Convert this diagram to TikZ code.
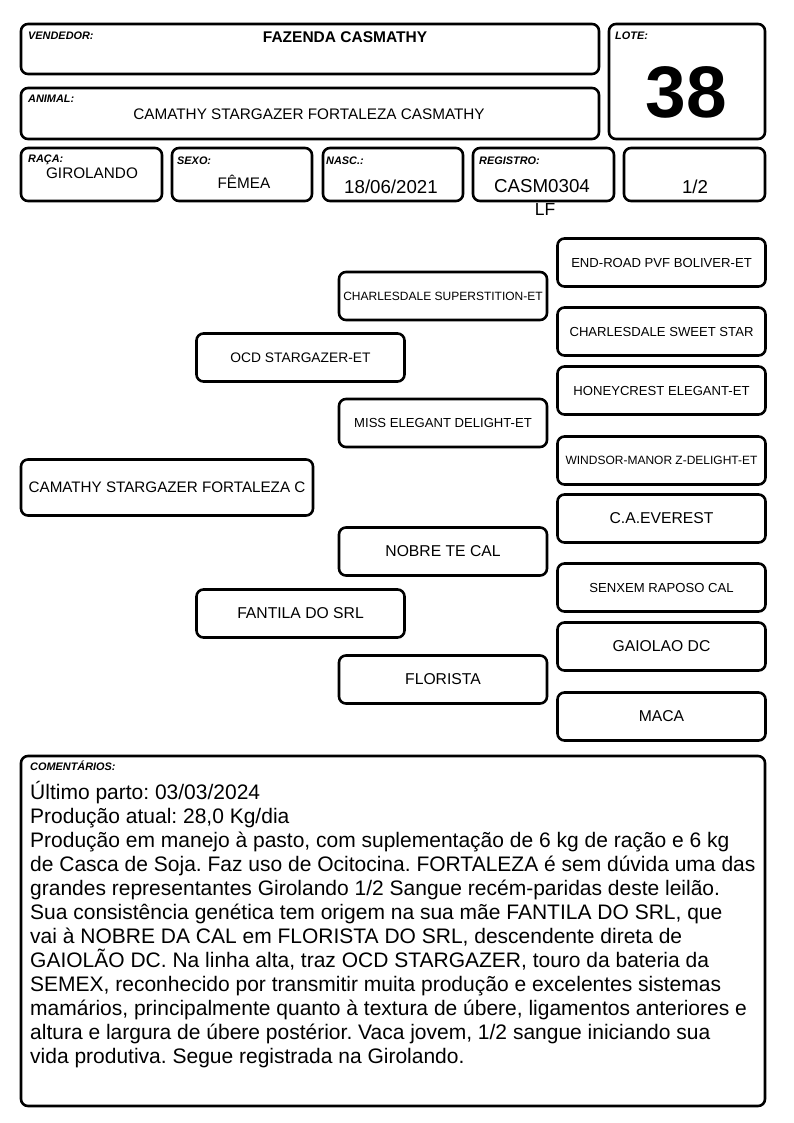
\documentclass[tikz,border=0pt]{standalone}
\usepackage{fontspec}
\setmainfont{Liberation Sans}
\newcommand\pxfont[1]{\fontsize{#1}{#1}\selectfont}
\frenchspacing

\begin{document}
\begin{tikzpicture}[x=1pt,y=-1pt,
  cell/.style={draw, line width=2.6pt, rounded corners=7pt},
  ped/.style={cell, inner sep=0pt, minimum width=208pt, minimum height=48pt},
  lbl/.style={anchor=base west, inner sep=0pt, font=\pxfont{10.9}\bfseries\itshape},
  val/.style={anchor=base, inner sep=0pt},
  note/.style={anchor=base west, inner sep=0pt, font=\pxfont{21}}]
\useasboundingbox (0,0) rectangle (794,1123);

% header
\draw[cell] (21,24) rectangle (599,74);
\draw[cell] (609,24) rectangle (765,139);
\draw[cell] (21,88) rectangle (599,139);
\draw[cell] (21,148) rectangle (162,201);
\draw[cell] (172,148) rectangle (312,201);
\draw[cell] (323,148) rectangle (463,201);
\draw[cell] (473,148) rectangle (614,201);
\draw[cell] (624,148) rectangle (765,201);

\node[lbl] (vendlbl) at (28,39.5) {VENDEDOR:};
\node[lbl] (lotelbl) at (615,39.5) {LOTE:};
\node[lbl] (animallbl) at (28,103) {ANIMAL:};
\node[lbl] (racalbl) at (28,163) {RAÇA:};
\node[lbl] (sexolbl) at (177,165) {SEXO:};
\node[lbl] (nasclbl) at (326,165) {NASC.:};
\node[lbl] (reglbl) at (479,165) {REGISTRO:};

\node[val, font=\pxfont{15.5}\bfseries] (vend) at (345,43) {FAZENDA CASMATHY};
\node[val, font=\pxfont{73}\bfseries] (lote) at (686.5,118) {38};
\node[val, font=\pxfont{15.3}] (animal) at (309,120) {CAMATHY STARGAZER FORTALEZA CASMATHY};
\node[val, font=\pxfont{15.3}] (raca) at (92,179) {GIROLANDO};
\node[val, font=\pxfont{15.3}] (sexo) at (244,189) {FÊMEA};
\node[val, font=\pxfont{18.7}] (nasc) at (391,193.5) {18/06/2021};
\node[val, font=\pxfont{18.7}] (reg) at (542,193) {CASM0304};
\node[val, font=\pxfont{18.7}] (grau) at (695,194) {1/2};
\node[val, font=\pxfont{17.5}] (regb) at (545,215) {LF};

% pedigree
\node[cell, inner sep=0pt, minimum width=292pt, minimum height=56pt, font=\pxfont{15.2}] (self) at (167,487.5) {CAMATHY STARGAZER FORTALEZA C};

\footnotesize
\node[ped, font=\pxfont{13.8}] (s) at (300.5,357.5) {OCD STARGAZER-ET};
\node[ped, font=\pxfont{15.7}] (d) at (300.5,613.5) {FANTILA DO SRL};

\node[ped, font=\pxfont{12}] (ss) at (443,296) {CHARLESDALE SUPERSTITION-ET};
\node[ped, font=\pxfont{13.1}] (sd) at (443,423) {MISS ELEGANT DELIGHT-ET};
\node[ped, font=\pxfont{15.7}] (ds) at (443,551.5) {NOBRE TE CAL};
\node[ped, font=\pxfont{15.7}] (dd) at (443,679.5) {FLORISTA};

\node[ped, font=\pxfont{13.1}] (sss) at (661.5,262.5) {END-ROAD PVF BOLIVER-ET};
\node[ped, font=\pxfont{13.1}] (ssd) at (661.5,331.5) {CHARLESDALE SWEET STAR};
\node[ped, font=\pxfont{13.1}] (sds) at (661.5,390.5) {HONEYCREST ELEGANT-ET};
\node[ped, font=\pxfont{12}] (sdd) at (661.5,460.5) {WINDSOR-MANOR Z-DELIGHT-ET};
\node[ped, font=\pxfont{15.7}] (dss) at (661.5,518.5) {C.A.EVEREST};
\node[ped, font=\pxfont{13.1}] (dsd) at (661.5,587.5) {SENXEM RAPOSO CAL};
\node[ped, font=\pxfont{15.7}] (dds) at (661.5,646.5) {GAIOLAO DC};
\node[ped, font=\pxfont{15.7}] (ddd) at (661.5,716.5) {MACA};

% comments
\draw[cell] (21,756) rectangle (765,1106);
\node[lbl] (notelbl) at (30,770) {COMENTÁRIOS:};

\node[note] (c1) at (30,799) {Último parto: 03/03/2024};
\node[note] (c2) at (30,823) {Produção atual: 28,0 Kg/dia};
\node[note] (c3) at (30,847) {Produção em manejo à pasto, com suplementação de 6 kg de ração e 6 kg};
\node[note] (c4) at (30,871) {de Casca de Soja. Faz uso de Ocitocina. FORTALEZA é sem dúvida uma das};
\node[note] (c5) at (30,895) {grandes representantes Girolando 1/2 Sangue recém-paridas deste leilão.};
\node[note] (c6) at (30,919) {Sua consistência genética tem origem na sua mãe FANTILA DO SRL, que};
\node[note] (c7) at (30,943) {vai à NOBRE DA CAL em FLORISTA DO SRL, descendente direta de};
\node[note] (c8) at (30,967) {GAIOLÃO DC. Na linha alta, traz OCD STARGAZER, touro da bateria da};
\node[note] (c9) at (30,991) {SEMEX, reconhecido por transmitir muita produção e excelentes sistemas};
\node[note] (c10) at (30,1015) {mamários, principalmente quanto à textura de úbere, ligamentos anteriores e};
\node[note] (c11) at (30,1039) {altura e largura de úbere postérior. Vaca jovem, 1/2 sangue iniciando sua};
\node[note] (c12) at (30,1063) {vida produtiva. Segue registrada na Girolando.};
\end{tikzpicture}
\end{document}
